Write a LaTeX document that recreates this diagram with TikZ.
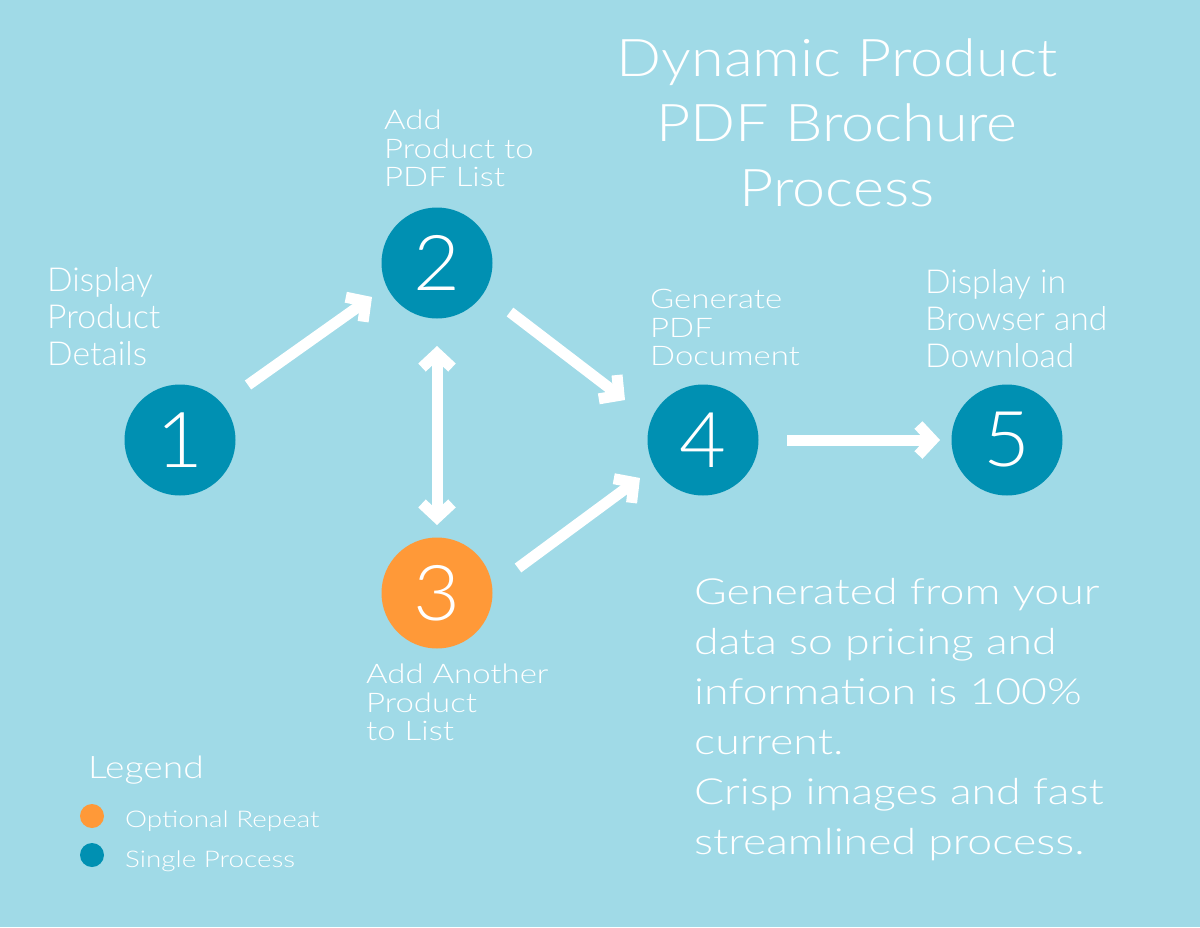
\documentclass[tikz,border=0pt]{standalone}
\usepackage{fontspec}
\setmainfont{Lato}[UprightFont=* Light]
\usetikzlibrary{arrows.meta,calc,positioning}

\definecolor{skyback}{RGB}{160,218,231}
\definecolor{stepteal}{RGB}{0,144,178}
\definecolor{steporange}{RGB}{255,153,56}

\newcommand{\fsz}[3]{\fontsize{#1}{#2}\selectfont\addfontfeature{FakeStretch=#3}}

\begin{document}
\begin{tikzpicture}[x=1pt,y=-1pt,>={Straight Barb[length=14pt,width=30pt,line join=miter,line cap=butt]},
	stepdot/.style={circle,fill=stepteal,minimum size=111pt,inner sep=0pt,text=white,font=\fsz{77}{77}{1.05}},
	flow/.style={->,white,line width=11pt},
	steplabel/.style={anchor=north west,align=left,inner sep=0pt,text=white,font=\fsz{27}{28.5}{1.22}},
	biglabel/.style={steplabel,font=\fsz{33}{37}{1.02}},
	legdot/.style={circle,inner sep=0pt,minimum size=24pt},
	legtext/.style={anchor=base west,inner sep=0pt,text=white,font=\fsz{23}{23}{1.21}}]
	\fill[skyback] (0,0) rectangle (1200,927);
	\useasboundingbox (0,0) rectangle (1200,927);
	% title
	\node[anchor=north,align=center,inner sep=0pt,text=white,font=\fsz{52}{65}{1.14}] (title) at (837,38) {Dynamic Product\\PDF Brochure\\Process};
	% steps
	\node[stepdot] (c1) at (180,440) {1};
	\node[stepdot] (c2) at (437,263) {2};
	\node[stepdot,fill=steporange] (c3) at (437,593) {3};
	\node[stepdot] (c4) at (703,440) {4};
	\node[stepdot] (c5) at (1007,440) {5};
	\node[biglabel] (l1) at (47,267) {Display\\Product\\Details};
	\node[steplabel] (l2) at (384,110) {Add\\Product to\\PDF List};
	\node[steplabel] (l3) at (366,664) {Add Another\\Product\\to List};
	\node[steplabel] (l4) at (650,289) {Generate\\PDF\\Document};
	\node[biglabel] (l5) at (925,269) {Display in\\Browser and\\Download};
	% arrows
	\draw[flow] ($(c1)+(68,-55)$) -- ($(c2)+(-65,34)$);
	\draw[flow,<->] ($(c2)+(0,83)$) -- ($(c3)+(0,-68)$);
	\draw[flow] ($(c2)+(73,49)$) -- ($(c4)+(-78,-40)$);
	\draw[flow] ($(c3)+(81,-25)$) -- ($(c4)+(-63,38)$);
	\draw[flow] ($(c4)+(84,0)$) -- ($(c5)+(-67,0)$);
	% note
	\node[anchor=north west,align=left,inner sep=0pt,text=white,font=\fsz{36}{50}{1.24}] (note) at (694,578) {Generated from your\\data so pricing and\\information is 100\%\\current.\\Crisp images and fast\\streamlined process.};
	% legend
	\node[anchor=base west,inner sep=0pt,text=white,font=\fsz{31}{31}{1.2}] (legend) at (88,778) {Legend};
	\node[legdot,fill=steporange] (dot3) at (92,816) {};
	\node[legdot,fill=stepteal] (dot1) at (92,855) {};
	\node[legtext] (optrep) at (125,827) {Optional Repeat};
	\node[legtext] (single) at (125,867) {Single Process};
\end{tikzpicture}
\end{document}
